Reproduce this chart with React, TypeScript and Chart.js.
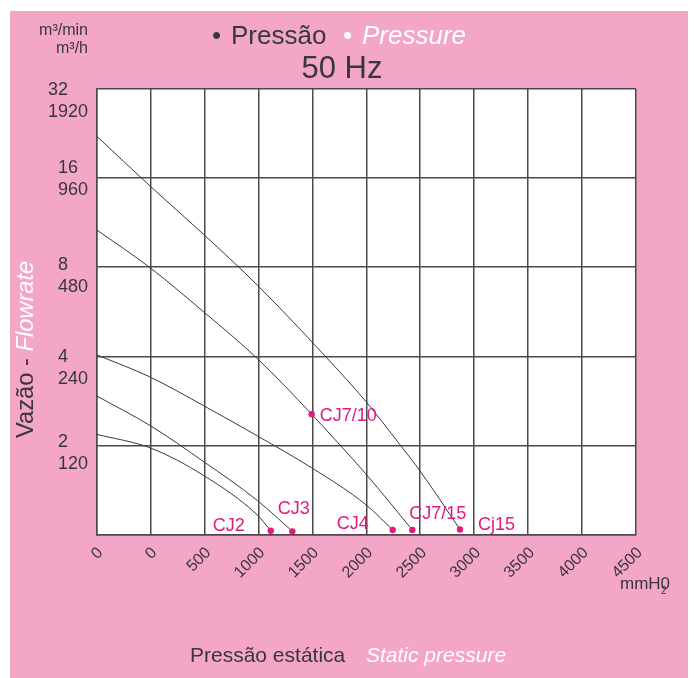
import { useEffect, useRef } from 'react';
import { Chart, registerables } from 'chart.js';

Chart.register(...registerables);

const FONT = '"Liberation Sans", Arial, Helvetica, sans-serif';
const PINK = '#F4A6C7';
const MAGENTA = '#E5187C';
const DARK = '#383838';
const GRID = '#4a4a4a';

// Axis ticks (as printed on the original chart)
const xTickValues = [-500, 0, 500, 1000, 1500, 2000, 2500, 3000, 3500, 4000, 4500];
const xTickLabels = ['0', '0', '500', '1000', '1500', '2000', '2500', '3000', '3500', '4000', '4500'];
const yTickValues = [1, 2, 4, 8, 16, 32];
const yTickPerMinute = ['', '2', '4', '8', '16', '32'];
const yTickPerHour = ['', '120', '240', '480', '960', '1920'];

// Fan curves: static pressure (mmH2O) vs flowrate (m3/min)
const seriesNames = ['CJ2', 'CJ3', 'CJ4', 'CJ7/15', 'Cj15'];
const cj2Pressure = [-500, 0, 496, 994, 1115];
const cj2Flow = [2.18, 1.96, 1.58, 1.16, 1.03];
const cj3Pressure = [-500, 0, 496, 994, 1315];
const cj3Flow = [2.94, 2.33, 1.76, 1.3, 1.025];
const cj4Pressure = [-500, 0, 496, 994, 1494, 1998, 2245];
const cj4Flow = [4.05, 3.4, 2.72, 2.15, 1.68, 1.26, 1.036];
const cj715Pressure = [-500, 0, 496, 994, 1494, 1738, 1998, 2427];
const cj715Flow = [10.71, 7.95, 5.64, 3.92, 2.55, 2.04, 1.6, 1.036];
const cj15Pressure = [-500, 0, 496, 994, 1618, 1998, 2313, 2498, 2869];
const cj15Flow = [22.2, 15.0, 10.3, 6.94, 4.01, 2.81, 2.01, 1.64, 1.04];

// Marked points (series name, point index, label)
const markerSeries = ['CJ2', 'CJ3', 'CJ4', 'CJ7/15', 'CJ7/15', 'Cj15'];
const markerIndex = [4, 4, 6, 4, 7, 8];
const markerLabels = ['CJ2', 'CJ3', 'CJ4', 'CJ7/10', 'CJ7/15', 'Cj15'];

const labelPlacement: Record<string, { dx: number; dy: number; align: CanvasTextAlign }> = {
  CJ2: { dx: -26, dy: 0.5, align: 'right' },
  CJ3: { dx: -14.5, dy: -17, align: 'left' },
  CJ4: { dx: -24, dy: -0.5, align: 'right' },
  'CJ7/10': { dx: 8, dy: 7, align: 'left' },
  'CJ7/15': { dx: -3, dy: -11, align: 'left' },
  Cj15: { dx: 18, dy: 1, align: 'left' },
};

// small vertical nudges of the hand-placed y labels (px), by tick value
const yLabelNudge: Record<number, number> = { 32: 2, 16: -9, 8: -1, 4: 2, 2: -2 };

const pressures = [cj2Pressure, cj3Pressure, cj4Pressure, cj715Pressure, cj15Pressure];
const flows = [cj2Flow, cj3Flow, cj4Flow, cj715Flow, cj15Flow];

const decorPlugin = {
  id: 'decor',
  beforeDraw(chart: any) {
    const { ctx, chartArea } = chart;
    ctx.save();
    ctx.fillStyle = PINK;
    ctx.fillRect(10, 11, 678, 667);
    ctx.fillStyle = '#ffffff';
    ctx.fillRect(chartArea.left, chartArea.top, chartArea.right - chartArea.left, chartArea.bottom - chartArea.top);
    ctx.restore();
  },
  afterDraw(chart: any) {
    const { ctx, chartArea } = chart;
    const yScale = chart.scales.y;
    ctx.save();

    // Titles
    ctx.textBaseline = 'alphabetic';
    ctx.textAlign = 'left';
    ctx.font = `26px ${FONT}`;
    ctx.fillStyle = DARK;
    ctx.fillText('\u2022', 212, 43.5);
    ctx.fillText('Pressão', 231, 43.5);
    ctx.fillStyle = '#ffffff';
    ctx.fillText('\u2022', 343, 43.5);
    ctx.font = `italic 26px ${FONT}`;
    ctx.fillText('Pressure', 362, 43.5);

    ctx.font = `31px ${FONT}`;
    ctx.fillStyle = DARK;
    ctx.textAlign = 'center';
    ctx.fillText('50 Hz', 342, 77.5);

    // Units
    ctx.font = `16px ${FONT}`;
    ctx.textAlign = 'right';
    ctx.fillText('m\u00B3/min', 88, 35);
    ctx.fillText('m\u00B3/h', 88, 53);

    // Y tick labels (two lines, left-aligned block, right edge near axis)
    ctx.font = `18px ${FONT}`;
    ctx.textAlign = 'left';
    yTickValues.forEach((v, i) => {
      const l1 = yTickPerMinute[i];
      const l2 = yTickPerHour[i];
      if (!l1 && !l2) return;
      const g = yScale.getPixelForValue(v) + (yLabelNudge[v] || 0);
      const w = Math.max(ctx.measureText(l1).width, ctx.measureText(l2).width);
      const x = chartArea.left - 8.5 - w;
      ctx.fillText(l1, x, g + 4);
      ctx.fillText(l2, x, g + 25.5);
    });

    // Y axis title
    ctx.save();
    ctx.translate(33, 438);
    ctx.rotate(-Math.PI / 2);
    ctx.font = `23.7px ${FONT}`;
    ctx.fillStyle = DARK;
    ctx.textAlign = 'left';
    const part1 = 'Vazão - ';
    ctx.fillText(part1, 0, 0);
    const w1 = ctx.measureText(part1).width;
    ctx.font = `italic 23.7px ${FONT}`;
    ctx.fillStyle = '#ffffff';
    ctx.fillText('Flowrate', w1, 0);
    ctx.restore();

    // X axis title
    ctx.font = `21px ${FONT}`;
    ctx.fillStyle = DARK;
    ctx.textAlign = 'left';
    ctx.fillText('Pressão estática', 190, 662);
    ctx.font = `italic 21px ${FONT}`;
    ctx.fillStyle = '#ffffff';
    ctx.fillText('Static pressure', 366, 662);

    // Unit mmH2O
    ctx.font = `17px ${FONT}`;
    ctx.fillStyle = DARK;
    ctx.fillText('mmH', 620, 589);
    const wm = ctx.measureText('mmH').width;
    ctx.fillText('0', 620 + wm, 589);
    ctx.font = `10px ${FONT}`;
    ctx.fillText('2', 620 + wm + 0.5, 594);

    // Marker labels
    ctx.font = `18px ${FONT}`;
    ctx.fillStyle = MAGENTA;
    markerLabels.forEach((lab, i) => {
      const dsIndex = seriesNames.indexOf(markerSeries[i]);
      const meta = chart.getDatasetMeta(dsIndex);
      const pt = meta.data[markerIndex[i]];
      if (!pt) return;
      const p = labelPlacement[lab];
      ctx.textAlign = p.align;
      ctx.fillText(lab, pt.x + p.dx, pt.y + p.dy);
    });

    ctx.restore();
  },
};

export default function App() {
  const canvasRef = useRef<HTMLCanvasElement | null>(null);

  useEffect(() => {
    if (!canvasRef.current) return;
    const datasets = seriesNames.map((name, si) => {
      const marked = markerSeries
        .map((s, mi) => (s === name ? markerIndex[mi] : -1))
        .filter((v) => v >= 0);
      return {
        label: name,
        data: pressures[si].map((x, i) => ({ x, y: flows[si][i] })),
        borderColor: '#3a3a3a',
        borderWidth: 1,
        cubicInterpolationMode: 'monotone' as const,
        pointRadius: (c: any) => (marked.includes(c.dataIndex) ? 3.2 : 0),
        pointBackgroundColor: MAGENTA,
        pointBorderWidth: 0,
        fill: false,
      };
    });

    const chart = new Chart(canvasRef.current, {
      type: 'line',
      data: { datasets },
      plugins: [decorPlugin],
      options: {
        animation: false,
        responsive: false,
        events: [],
        layout: { padding: { left: 0, right: 58, top: 89, bottom: 0 } },
        plugins: {
          legend: { display: false },
          tooltip: { enabled: false },
          title: { display: false },
        },
        scales: {
          x: {
            type: 'linear',
            min: -500,
            max: 4500,
            afterBuildTicks: (scale: any) => {
              scale.ticks = xTickValues.map((value) => ({ value }));
            },
            afterFit: (scale: any) => {
              scale.height = 143.5;
            },
            grid: { color: GRID, lineWidth: 1.5, drawTicks: false },
            border: { display: true, color: GRID, width: 1.5 },
            ticks: {
              autoSkip: false,
              minRotation: 45,
              maxRotation: 45,
              padding: 9,
              labelOffset: 4,
              color: DARK,
              font: { family: FONT, size: 16 },
              callback: (_v: any, index: number) => xTickLabels[index],
            },
          },
          y: {
            type: 'logarithmic',
            min: 1,
            max: 32,
            afterBuildTicks: (scale: any) => {
              scale.ticks = yTickValues.map((value) => ({ value }));
            },
            afterFit: (scale: any) => {
              scale.width = 96.5;
            },
            grid: { color: GRID, lineWidth: 1.5, drawTicks: false },
            border: { display: true, color: GRID, width: 1.5 },
            ticks: { display: false },
          },
        },
      },
    });
    return () => chart.destroy();
  }, []);

  return (
    <div style={{ position: 'absolute', left: 0, top: 0, width: 694, height: 678 }}>
      <canvas ref={canvasRef} width={694} height={678} style={{ width: 694, height: 678, display: 'block' }} />
    </div>
  );
}
